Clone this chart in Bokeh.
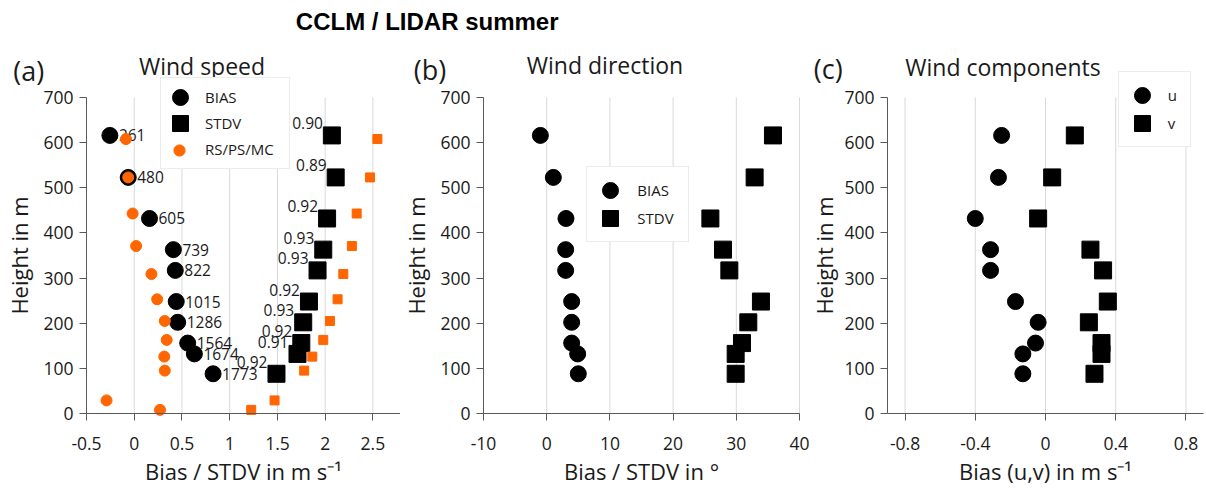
from bokeh.plotting import figure
from bokeh.models import (Range1d, FixedTicker, CustomJSTickFormatter, Legend,
                          LegendItem, Label, ColumnDataSource)
from bokeh.layouts import row, column
from bokeh.core.properties import value
from bokeh.embed import file_html
from bokeh.resources import INLINE

# ---------------------------------------------------------------- data
# model levels (m)
heights = [616, 523, 432, 363, 317, 248, 202, 156, 132, 88]

# (a) wind speed, CCLM vs LIDAR
ws_bias = [-0.255, -0.063, 0.16, 0.41, 0.43, 0.44, 0.455, 0.56, 0.63, 0.826]
ws_stdv = [2.07, 2.11, 2.02, 1.98, 1.92, 1.83, 1.77, 1.75, 1.71, 1.49]
ws_count = ["261", "480", "605", "739", "822", "1015", "1286", "1564", "1674", "1773"]
ws_corr = ["0.90", "0.89", "0.92", "0.93", "0.93", "0.92", "0.93", "0.92", "0.91", "0.92"]

# (a) reference statistics RS/PS/MC
rs_heights = [608, 523, 443, 371, 309, 253, 205, 163, 126, 95, 29, 8]
rs_bias = [-0.087, -0.063, -0.017, 0.02, 0.18, 0.24, 0.32, 0.34, 0.315, 0.32, -0.29, 0.27]
rs_stdv = [2.547, 2.47, 2.33, 2.28, 2.19, 2.13, 2.05, 1.98, 1.865, 1.78, 1.47, 1.225]

# (b) wind direction
wd_bias = [-1.0, 1.05, 3.05, 3.0, 3.0, 3.95, 3.95, 3.95, 4.9, 5.0]
wd_stdv = [35.8, 32.9, 25.9, 27.9, 28.9, 33.9, 31.9, 30.9, 29.9, 29.9]

# (c) wind components
u_bias = [-0.25, -0.268, -0.40, -0.313, -0.313, -0.171, -0.042, -0.057, -0.129, -0.129]
v_bias = [0.167, 0.038, -0.042, 0.256, 0.328, 0.355, 0.247, 0.319, 0.319, 0.279]

# axes
height_ticks = [0, 100, 200, 300, 400, 500, 600, 700]
height_tick_labels = ["0", "100", "200", "300", "400", "500", "600", "700"]
ws_ticks = [-0.5, 0, 0.5, 1, 1.5, 2, 2.5]
ws_tick_labels = ["-0.5", "0", "0.5", "1", "1.5", "2", "2.5"]
wd_ticks = [-10, 0, 10, 20, 30, 40]
wd_tick_labels = ["-10", "0", "10", "20", "30", "40"]
uv_ticks = [-0.8, -0.4, 0, 0.4, 0.8]
uv_tick_labels = ["-0.8", "-0.4", "0", "0.4", "0.8"]

# ---------------------------------------------------------------- layout / style
PAGE_H = 488
HEAD_H = 44          # strip holding the overall title
ZERO_ROW = 413       # page row of the x axes (height 0)
AXIS_PX = 316        # length of every x and y axis in px
PX_PER_M = AXIS_PX / 700
FONT = "Open Sans"
AXIS_GREY = "#595959"
GRID_GREY = "#d9d9d9"
ORANGE = "#ff6600"
TEXT = "#1a1a1a"
FMT = "const i = vals.indexOf(tick); return i < 0 ? '' : labs[i];"


def panel(lo, hi, ticks, tick_labels, fig_left, axis_left, width, xlabel,
          ylabel_standoff=6):
    """One profile panel; the frame fills the whole canvas and the axes
    are pinned at (lo, 0)."""
    k = (hi - lo) / AXIS_PX
    x0 = lo - (axis_left - fig_left) * k
    y0 = -(PAGE_H - ZERO_ROW) / PX_PER_M
    y1 = (ZERO_ROW - HEAD_H) / PX_PER_M
    p = figure(frame_width=width, frame_height=PAGE_H - HEAD_H,
               x_range=Range1d(x0, x0 + width * k), y_range=Range1d(y0, y1),
               min_border=0, output_backend="svg", toolbar_location=None,
               outline_line_color=None,
               background_fill_color="white", border_fill_color="white")
    p.xgrid.visible = False
    p.ygrid.visible = False

    # vertical grid lines over the height axis
    top = height_ticks[-1]
    p.segment(x0=ticks, y0=[0] * len(ticks), x1=ticks, y1=[top] * len(ticks),
              line_color=GRID_GREY, line_width=1)

    xa, ya = p.xaxis[0], p.yaxis[0]
    xa.ticker = FixedTicker(ticks=ticks)
    xa.formatter = CustomJSTickFormatter(
        args=dict(vals=ticks, labs=tick_labels), code=FMT)
    ya.ticker = FixedTicker(ticks=height_ticks)
    ya.formatter = CustomJSTickFormatter(
        args=dict(vals=height_ticks, labs=height_tick_labels), code=FMT)
    xa.fixed_location = 0
    xa.bounds = (lo, hi)
    ya.fixed_location = lo
    ya.bounds = (0, top)
    for ax in (xa, ya):
        ax.axis_line_color = AXIS_GREY
        ax.major_tick_line_color = AXIS_GREY
        ax.major_tick_out = 7
        ax.major_tick_in = 0
        ax.minor_tick_line_color = None
        ax.major_label_text_font = FONT
        ax.major_label_text_font_size = "17.5px"
        ax.major_label_text_color = TEXT
        ax.axis_label_text_font = FONT
        ax.axis_label_text_font_size = "22px"
        ax.axis_label_text_font_style = "normal"
        ax.axis_label_text_color = TEXT
    xa.axis_label = xlabel
    ya.axis_label = "Height in m"
    xa.major_label_standoff = 16
    xa.axis_label_standoff = 3
    ya.major_label_standoff = 6
    ya.axis_label_standoff = ylabel_standoff

    def at(px, py):
        """data coordinates of a page position"""
        return x0 + (px - fig_left) * k, (ZERO_ROW - py) / PX_PER_M

    return p, at


def headings(p, at, tag, tag_pos, title, title_pos):
    x, y = at(*tag_pos)
    p.add_layout(Label(x=x, y=y, text=tag, text_align="left",
                       text_baseline="middle", text_font=FONT,
                       text_font_size="27px", text_color=TEXT))
    x, y = at(*title_pos)
    p.add_layout(Label(x=x, y=y, text=title, text_align="center",
                       text_baseline="middle", text_font=FONT,
                       text_font_size="23px", text_color=TEXT))


def legend(items, loc, glyph, spacing, padding, label_w, standoff,
           font_size="15px", label_h=20, border=True):
    return Legend(items=items, location=loc, glyph_width=glyph,
                  glyph_height=glyph, spacing=spacing, padding=padding,
                  margin=0, label_width=label_w, label_height=label_h,
                  label_standoff=standoff,
                  label_text_font=FONT, label_text_font_size=font_size,
                  label_text_color=TEXT,
                  border_line_color=GRID_GREY if border else None,
                  background_fill_color="white",
                  background_fill_alpha=1 if border else 0)


def dots(p, x, src, d, color):
    return p.ellipse(x, "h", source=src, width=d, height=d,
                     width_units="screen", height_units="screen",
                     fill_color=color, line_color=color)


def boxes(p, x, src, d, color):
    return p.rect(x, "h", source=src, width=d, height=d,
                  width_units="screen", height_units="screen",
                  fill_color=color, line_color=color)


# ---------------------------------------------------------------- (a)
pa, at_a = panel(-0.5, 2.81, ws_ticks, ws_tick_labels, 0, 86, 400,
                 "Bias / STDV in m s\u207b\u00b9")
src_a = ColumnDataSource(dict(h=heights, bias=ws_bias, stdv=ws_stdv,
                              n=ws_count, r=ws_corr))
src_rs = ColumnDataSource(dict(h=rs_heights, bias=rs_bias, stdv=rs_stdv))

r_bias = dots(pa, "bias", src_a, 16, "black")
r_stdv = boxes(pa, "stdv", src_a, 17, "black")
pa.text("bias", "h", text="n", source=src_a, x_offset=9,
        text_align="left", text_baseline="middle", text_font=value(FONT),
        text_font_size="15.5px", text_color=TEXT)
pa.text("stdv", "h", text="r", source=src_a, x_offset=-9, y_offset=-12,
        text_align="right", text_baseline="middle", text_font=value(FONT),
        text_font_size="15.5px", text_color=TEXT)
r_rs_c = dots(pa, "bias", src_rs, 11, ORANGE)
boxes(pa, "stdv", src_rs, 9, ORANGE)
r_blank = pa.scatter(x=[], y=[], marker="circle", size=0,
                     fill_alpha=0, line_alpha=0)

pa.add_layout(legend([LegendItem(label="BIAS", renderers=[r_bias]),
                      LegendItem(label="STDV", renderers=[r_stdv]),
                      LegendItem(label="RS/PS/MC", renderers=[r_blank])],
                     (160, 319), 20, 6, 9, 75, 15), "center")
# smaller marker for the reference entry
pa.add_layout(legend([LegendItem(label=" ", renderers=[r_rs_c])],
                     (172, 331), 14, 0, 0, 1, 0, font_size="1px",
                     label_h=14, border=False), "center")
headings(pa, at_a, "(a)", (12.7, 70), "Wind speed", (201.5, 65))

# ---------------------------------------------------------------- (b)
pb, at_b = panel(-10, 40, wd_ticks, wd_tick_labels, 400, 483, 409,
                 "Bias / STDV in \u00b0")
src_b = ColumnDataSource(dict(h=heights, bias=wd_bias, stdv=wd_stdv))
rb1 = dots(pb, "bias", src_b, 16, "black")
rb2 = boxes(pb, "stdv", src_b, 17, "black")
pb.add_layout(legend([LegendItem(label="BIAS", renderers=[rb1]),
                      LegendItem(label="STDV", renderers=[rb2])],
                     (186.3, 246.3), 20, 8, 13, 38, 17), "center")
headings(pb, at_b, "(b)", (413.3, 68.5), "Wind direction", (604.5, 64.5))

# ---------------------------------------------------------------- (c)
pc, at_c = panel(-0.9, 0.9, uv_ticks, uv_tick_labels, 809, 887, 397,
                 "Bias (u,v) in m s\u207b\u00b9", ylabel_standoff=2)
src_c = ColumnDataSource(dict(h=heights, u=u_bias, v=v_bias))
rc1 = dots(pc, "u", src_c, 16, "black")
rc2 = boxes(pc, "v", src_c, 17, "black")
pc.add_layout(legend([LegendItem(label="u", renderers=[rc1]),
                      LegendItem(label="v", renderers=[rc2])],
                     (308.7, 341.3), 20, 8, 13, 9, 16), "center")
headings(pc, at_c, "(c)", (813.3, 68), "Wind components", (1002.5, 66))

# ---------------------------------------------------------------- header
head = figure(frame_width=1206, frame_height=HEAD_H, min_border=0,
              x_range=Range1d(0, 1206), y_range=Range1d(0, HEAD_H),
              x_axis_type=None, y_axis_type=None,
              output_backend="svg", toolbar_location=None,
              outline_line_color=None, border_fill_color="white")
head.add_layout(Label(x=426.7, y=HEAD_H - 21, text="CCLM / LIDAR summer",
                      text_align="center", text_baseline="middle",
                      text_font="Liberation Sans", text_font_style="bold",
                      text_font_size="24px", text_color="black"))

layout = column(head, row(pa, pb, pc))
open("out.html", "w").write(file_html(layout, INLINE))
